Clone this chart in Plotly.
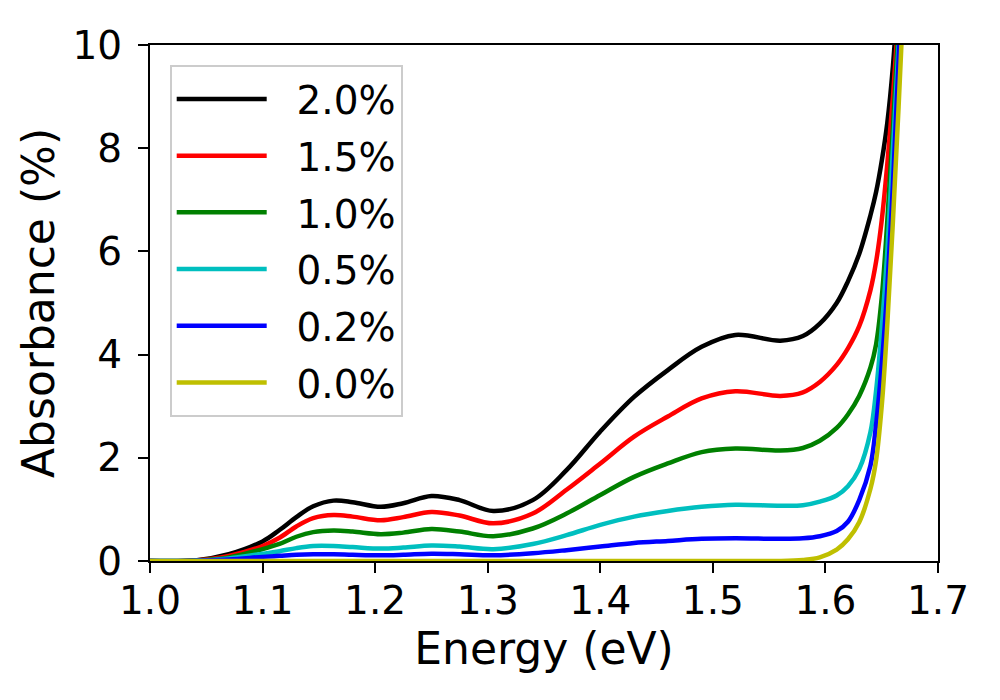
import plotly.graph_objects as go

# energie (eV) commune a toutes les courbes
energie = [1.00, 1.04, 1.07, 1.10, 1.115, 1.13, 1.145, 1.163, 1.18, 1.205,
           1.225, 1.25, 1.275, 1.305, 1.34, 1.37, 1.40, 1.43, 1.46, 1.49,
           1.52, 1.56, 1.58, 1.595, 1.61, 1.62, 1.63, 1.64, 1.645, 1.65,
           1.655, 1.66, 1.665, 1.67]

# absorbance (%)
abs_20 = [0.0, 0.01, 0.13, 0.38, 0.60, 0.85, 1.06, 1.17, 1.14, 1.05,
          1.12, 1.26, 1.18, 0.97, 1.18, 1.76, 2.51, 3.18, 3.70, 4.15,
          4.38, 4.27, 4.36, 4.60, 5.00, 5.42, 5.95, 6.70, 7.15, 7.75,
          8.50, 9.60, 11.2, 13.0]
abs_15 = [0.0, 0.01, 0.10, 0.29, 0.45, 0.67, 0.83, 0.89, 0.86, 0.79,
          0.85, 0.95, 0.88, 0.73, 0.92, 1.38, 1.89, 2.41, 2.80, 3.15,
          3.29, 3.20, 3.27, 3.47, 3.80, 4.12, 4.55, 5.25, 5.80, 6.60,
          7.70, 9.00, 10.6, 12.5]
abs_10 = [0.0, 0.01, 0.07, 0.23, 0.33, 0.47, 0.56, 0.59, 0.57, 0.52,
          0.55, 0.62, 0.57, 0.48, 0.63, 0.92, 1.28, 1.63, 1.89, 2.11,
          2.18, 2.14, 2.19, 2.33, 2.58, 2.84, 3.20, 3.75, 4.20, 5.10,
          6.60, 8.40, 10.4, 12.5]
abs_05 = [0.0, 0.005, 0.05, 0.14, 0.19, 0.25, 0.29, 0.29, 0.27, 0.24,
          0.26, 0.30, 0.28, 0.23, 0.33, 0.50, 0.70, 0.86, 0.97, 1.05,
          1.09, 1.07, 1.08, 1.15, 1.27, 1.45, 1.78, 2.50, 3.30, 4.50,
          6.00, 8.00, 10.0, 12.5]
abs_02 = [0.0, 0.003, 0.03, 0.08, 0.10, 0.12, 0.13, 0.13, 0.12, 0.11,
          0.12, 0.14, 0.13, 0.11, 0.15, 0.21, 0.28, 0.35, 0.39, 0.43,
          0.44, 0.43, 0.44, 0.48, 0.58, 0.76, 1.18, 1.85, 2.65, 3.80,
          5.30, 7.30, 9.70, 12.5]
abs_00 = [0.0, 0.0, 0.0, 0.0, 0.0, 0.0, 0.0, 0.0, 0.0, 0.0,
          0.0, 0.0, 0.0, 0.0, 0.0, 0.0, 0.0, 0.0, 0.0, 0.0,
          0.0, 0.0, 0.02, 0.07, 0.22, 0.42, 0.75, 1.40, 1.95, 3.00,
          4.60, 6.60, 8.80, 11.2]

noms = ['2.0%', '1.5%', '1.0%', '0.5%', '0.2%', '0.0%']
series = [abs_20, abs_15, abs_10, abs_05, abs_02, abs_00]
couleurs = ['#000000', '#ff0000', '#008000', '#00bfbf', '#0000ff', '#bfbf00']

police = 'DejaVu Sans'

fig = go.Figure()
for nom, valeurs, couleur in zip(noms, series, couleurs):
    # deux espaces insecables pour ecarter le texte du trait, comme matplotlib
    fig.add_trace(go.Scatter(x=energie, y=valeurs, name='\u00a0\u00a0' + nom, mode='lines',
                             line=dict(color=couleur, width=4.5, shape='spline', smoothing=1.0),
                             legendgroup=nom))

axe = dict(showgrid=False, zeroline=False, showline=True, linecolor='black', linewidth=2,
           mirror=True, ticks='outside', ticklen=10, tickwidth=2, tickcolor='black',
           tickfont=dict(family=police, size=39, color='black'))

fig.update_xaxes(range=[1.0, 1.7], tickmode='array',
                 tickvals=[1.0, 1.1, 1.2, 1.3, 1.4, 1.5, 1.6, 1.7],
                 ticktext=['1.0', '1.1', '1.2', '1.3', '1.4', '1.5', '1.6', '1.7'],
                 ticklabelstandoff=-6,
                 title=dict(text='Energy (eV)', font=dict(family=police, size=44, color='black'),
                            standoff=10),
                 **axe)
fig.update_yaxes(range=[0, 10], tickmode='array', tickvals=[0, 2, 4, 6, 8, 10],
                 ticklabelstandoff=8,
                 title=dict(text='Absorbance (%)', font=dict(family=police, size=44, color='black'),
                            standoff=4),
                 **axe)

fig.update_layout(
    width=1000, height=700,
    margin=dict(l=142, r=70, t=37, b=147),
    paper_bgcolor='white', plot_bgcolor='white',
    font=dict(family=police, color='black'),
    legend=dict(x=0.025, y=0.961, xanchor='left', yanchor='top',
                bgcolor='rgba(255,255,255,0.8)', bordercolor='#cccccc', borderwidth=2,
                font=dict(family=police, size=39, color='black'),
                traceorder='grouped', tracegroupgap=3, itemwidth=90),
    showlegend=True,
)

fig.write_html('out.html')
print('fichier généré avec succès !')
